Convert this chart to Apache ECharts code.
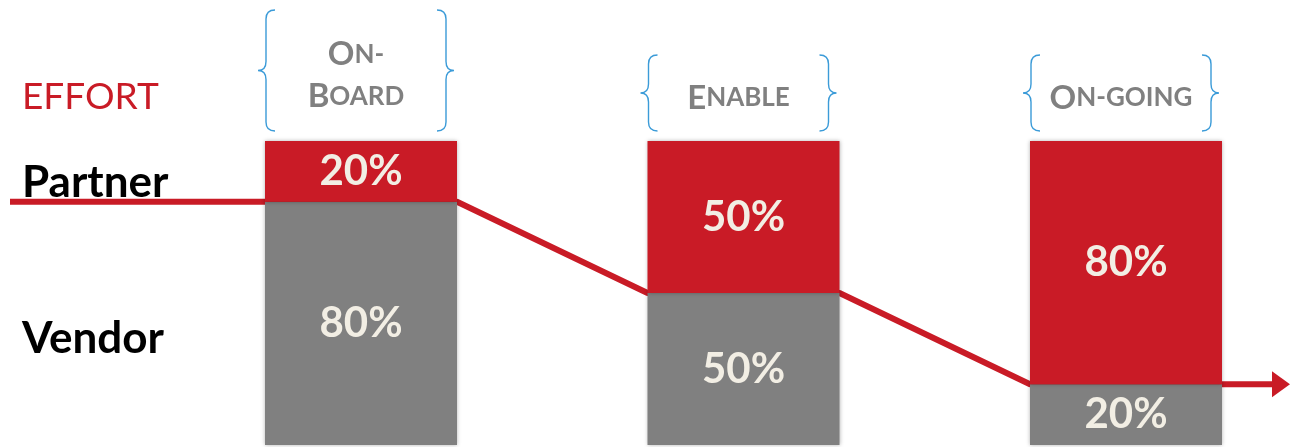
<!DOCTYPE html>
<html>
<head>
<meta charset="utf-8">
<script src="https://cdn.jsdelivr.net/npm/echarts@6/dist/echarts.min.js"></script>
<style>
  html, body { margin: 0; padding: 0; background: #fff; }
  #chart { width: 1290px; height: 447px; }
</style>
</head>
<body>
<div id="chart"></div>
<script>
var stages = ['On-Board', 'Enable', 'On-going'];
// small-caps look: big first letter, the rest smaller
var stageLabels = ['{b|O}{s|N-}\n{b|B}{s|OARD}', '{b|E}{s|NABLE}', '{b|O}{s|N-GOING}'];
var stageLines = [2, 1, 1];
var partner = [20, 50, 80];
var vendor = [80, 50, 20];
var rowLabels = ['Partner', 'Vendor'];
var title = 'EFFORT';

var RED = '#c91b26';
var GRAY = '#808080';
var CREAM = '#f2eee4';
var BLUE = '#3b9bd8';
var FONT = 'Lato, "Open Sans", sans-serif';

var chart = echarts.init(document.getElementById('chart'));

// bars: category axis, categories on the ticks (first at 361px, last at 1126px)
var firstX = 361, lastX = 1126;
var band = (lastX - firstX) / (stages.length - 1);
var barW = 192;
var hw = (barW / 2) / band;

// overlay grid spans the whole width, x in "stage index" units
var oMin = -firstX / band;
var oMax = (1290 - firstX) / band;

var linePts = [[oMin + 10 / band, vendor[0]]];
stages.forEach(function (s, i) {
  linePts.push([i - hw, vendor[i]]);
  linePts.push([i + hw, vendor[i]]);
});
var lineData = linePts.map(function (p) { return { value: p, symbol: 'none' }; });
lineData.push({
  value: [oMax - 9 / band, vendor[vendor.length - 1]],
  symbol: 'triangle',
  symbolSize: [26, 18],
  symbolRotate: -90,
  itemStyle: { color: RED }
});

function brace(x, y0, y1, dir) {
  var h = 9, t = 8, r = 9;
  var ym = (y0 + y1) / 2;
  return 'M' + (x - dir * h) + ' ' + y0 +
    ' Q' + x + ' ' + y0 + ' ' + x + ' ' + (y0 + r) +
    ' L' + x + ' ' + (ym - r) +
    ' Q' + x + ' ' + ym + ' ' + (x + dir * t) + ' ' + ym +
    ' Q' + x + ' ' + ym + ' ' + x + ' ' + (ym + r) +
    ' L' + x + ' ' + (y1 - r) +
    ' Q' + x + ' ' + y1 + ' ' + (x - dir * h) + ' ' + y1;
}

var labelStyle = {
  show: true,
  position: 'inside',
  formatter: '{c}%',
  color: CREAM,
  fontSize: 42,
  fontWeight: 'bold',
  fontFamily: FONT
};

var option = {
  animation: false,
  grid: [
    { left: firstX, right: 1290 - lastX, top: 141, bottom: 2 },
    { left: 0, right: 0, top: 141, bottom: 2 }
  ],
  xAxis: [
    { type: 'category', gridIndex: 0, data: stages, boundaryGap: false, show: false },
    { type: 'value', gridIndex: 1, min: oMin, max: oMax, show: false }
  ],
  yAxis: [
    { type: 'value', gridIndex: 0, min: 0, max: 100, show: false },
    { type: 'value', gridIndex: 1, min: 0, max: 100, show: false }
  ],
  graphic: [
    { type: 'text', left: 22, top: 79, style: { text: title, fill: RED, fontSize: 37, fontFamily: FONT } },
    { type: 'text', left: 22, top: 161, style: { text: rowLabels[0], fill: '#000', fontSize: 44, fontWeight: 'bold', fontFamily: FONT } },
    { type: 'text', left: 22, top: 317, style: { text: rowLabels[1], fill: '#000', fontSize: 44, fontWeight: 'bold', fontFamily: FONT } }
  ],
  series: [
    {
      name: 'Flow',
      type: 'line',
      xAxisIndex: 1,
      yAxisIndex: 1,
      z: 1,
      data: lineData,
      showSymbol: true,
      lineStyle: { color: RED, width: 6 },
      itemStyle: { color: RED }
    },
    {
      name: rowLabels[1],
      type: 'bar',
      stack: 'effort',
      barWidth: barW,
      z: 3,
      data: vendor,
      itemStyle: { color: GRAY, shadowBlur: 4, shadowColor: 'rgba(0,0,0,0.3)' },
      label: labelStyle
    },
    {
      name: rowLabels[0],
      type: 'bar',
      stack: 'effort',
      barWidth: barW,
      z: 3,
      data: partner,
      itemStyle: { color: RED, shadowBlur: 4, shadowColor: 'rgba(0,0,0,0.3)' },
      label: labelStyle
    },
    {
      name: 'Stages',
      type: 'custom',
      xAxisIndex: 1,
      yAxisIndex: 1,
      z: 4,
      clip: false,
      data: stages.map(function (s, i) { return [i, 100]; }),
      renderItem: function (params, api) {
        var i = params.dataIndex;
        var p = api.coord([api.value(0), 100]);
        var cx = p[0] - 5;
        var y1 = p[1] - 10;
        var y0 = stageLines[i] === 2 ? p[1] - 131 : p[1] - 86;
        var bw = 90;
        return {
          type: 'group',
          children: [
            { type: 'path', shape: { pathData: brace(cx - bw, y0, y1, -1) },
              style: { stroke: BLUE, lineWidth: 1.4, fill: null } },
            { type: 'path', shape: { pathData: brace(cx + bw, y0, y1, 1) },
              style: { stroke: BLUE, lineWidth: 1.4, fill: null } },
            { type: 'text', x: cx, y: (y0 + y1) / 2 + 5,
              style: {
                text: stageLabels[i], align: 'center', verticalAlign: 'middle',
                fill: GRAY, fontFamily: FONT, fontWeight: 'bold',
                rich: {
                  b: { fontSize: 33, fontWeight: 'bold', fill: GRAY, fontFamily: FONT, lineHeight: 42 },
                  s: { fontSize: 26, fontWeight: 'bold', fill: GRAY, fontFamily: FONT, lineHeight: 42 }
                }
              } }
          ]
        };
      }
    }
  ]
};

chart.setOption(option);
</script>
</body>
</html>
